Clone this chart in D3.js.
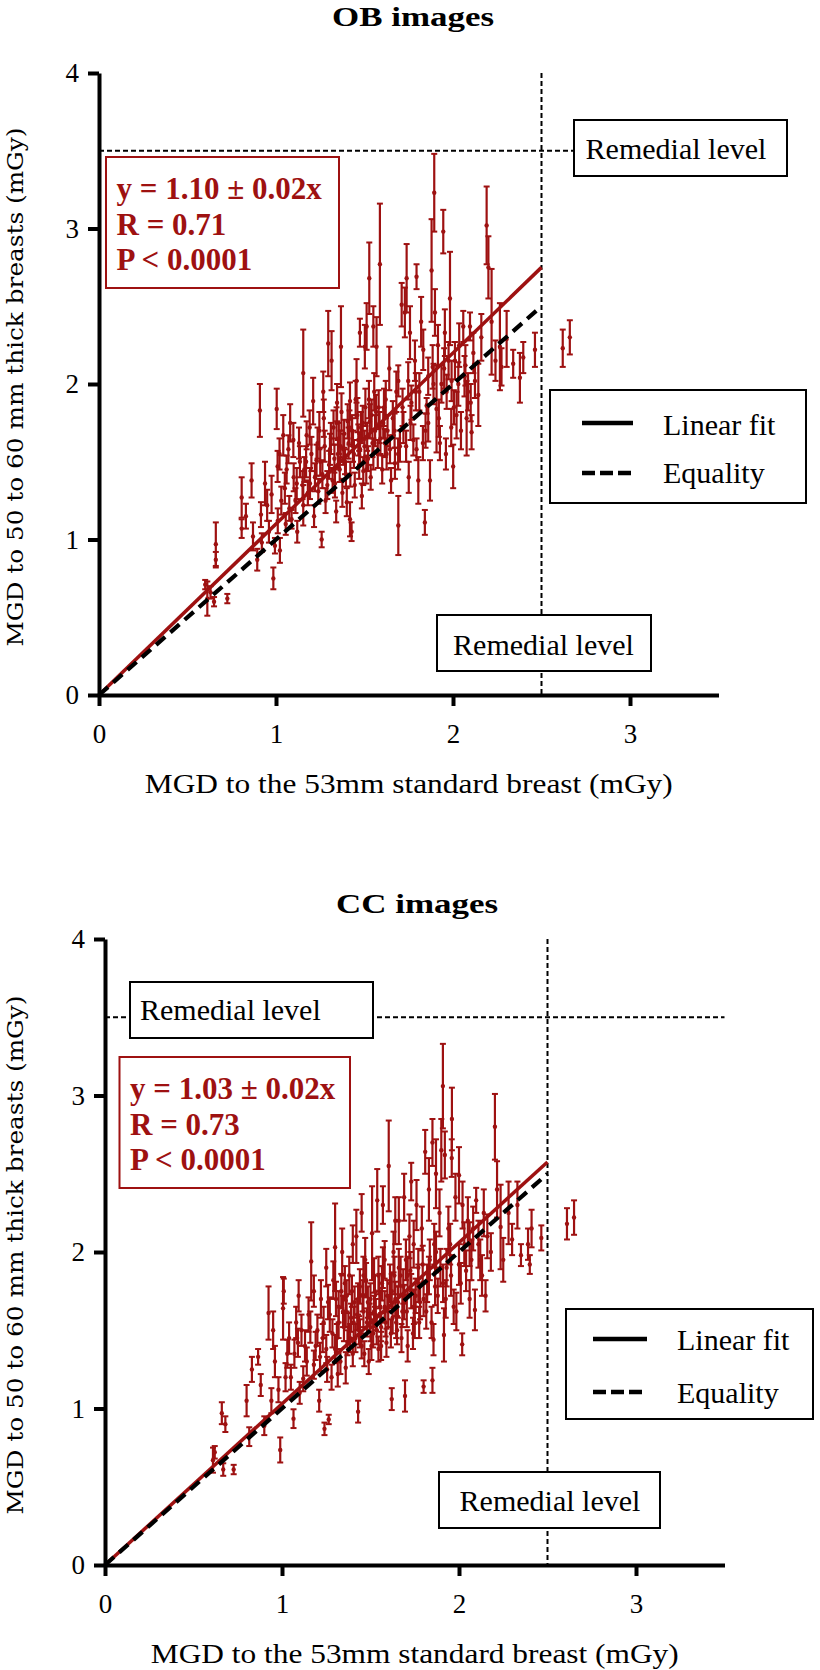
<!DOCTYPE html>
<html><head><meta charset="utf-8">
<script src="https://cdn.jsdelivr.net/npm/d3@7/dist/d3.min.js"></script>
<style>body{margin:0;background:#fff} svg{display:block}</style>
</head><body>
<svg id="c" width="820" height="1670"></svg>
<script>
// ---------- data ----------
const xTicks = [0, 1, 2, 3];
const yTicks = [0, 1, 2, 3, 4];
const remedialX = 2.5, remedialY = 3.5;
const obSlope = 1.10, ccSlope = 1.03;
const obEquation = ["y = 1.10 \u00b1 0.02x", "R = 0.71", "P < 0.0001"];
const ccEquation = ["y = 1.03 \u00b1 0.02x", "R = 0.73", "P < 0.0001"];
const legendLabels = ["Linear fit", "Equality"];
const remedialLabel = "Remedial level";
const xTitle = "MGD to the 53mm standard breast (mGy)";
const yTitle = "MGD to 50 to 60 mm thick breasts (mGy)";

// [x, y, error]
const obPoints = [
[0.60,0.71,0.03],[0.612,0.62,0.11],[0.65,0.60,0.03],[0.66,0.97,0.14],[0.66,0.87,0.05],[0.725,0.62,0.03],[0.63,0.66,0.04],
[0.806,1.27,0.13],[0.806,1.07,0.06],[0.83,1.15,0.08],[0.862,1.38,0.11],[0.87,1.02,0.09],[0.894,0.87,0.07],[0.909,1.83,0.17],
[0.915,1.16,0.08],[0.92,0.98,0.06],[0.938,1.36,0.14],[0.95,1.22,0.10],[0.96,1.05,0.07],[0.975,1.29,0.12],[0.985,0.75,0.07],
[0.994,0.96,0.05],[1.004,1.84,0.13],[1.009,1.47,0.10],[1.01,1.12,0.08],[1.022,0.93,0.08],[1.03,1.25,0.09],[1.041,1.67,0.13],
[1.05,1.33,0.10],[1.055,1.10,0.07],[1.07,1.58,0.09],[1.075,1.20,0.08],[1.088,1.13,0.06],[1.098,1.64,0.11],[1.10,1.40,0.09],
[1.117,1.36,0.10],[1.12,1.05,0.07],[1.135,1.50,0.10],[1.154,2.07,0.28],[1.154,1.22,0.13],[1.16,1.45,0.08],[1.173,1.67,0.09],
[1.18,1.30,0.08],[1.192,1.36,0.10],[1.20,1.55,0.11],[1.21,1.89,0.15],[1.215,1.15,0.07],[1.229,1.51,0.10],[1.239,1.31,0.08],
[1.245,1.70,0.12],[1.258,1.00,0.05],[1.262,1.42,0.09],[1.267,1.95,0.13],[1.275,1.60,0.10],[1.28,1.25,0.08],[1.295,2.26,0.21],
[1.30,1.48,0.09],[1.305,1.58,0.10],[1.314,2.15,0.19],[1.32,1.38,0.08],[1.325,1.72,0.11],[1.333,1.36,0.09],[1.34,1.18,0.07],
[1.342,1.75,0.10],[1.35,1.55,0.09],[1.355,1.65,0.10],[1.36,1.45,0.08],[1.367,2.24,0.26],[1.37,1.82,0.12],[1.375,1.30,0.09],
[1.38,1.58,0.10],[1.385,1.68,0.09],[1.39,1.50,0.08],[1.40,1.24,0.09],[1.405,1.76,0.11],[1.41,1.62,0.10],[1.418,1.13,0.11],
[1.418,1.89,0.12],[1.42,1.42,0.08],[1.427,1.05,0.06],[1.43,1.70,0.10],[1.44,1.55,0.09],[1.445,1.35,0.08],[1.455,2.02,0.14],
[1.46,1.80,0.11],[1.465,1.64,0.10],[1.47,1.48,0.09],[1.474,2.33,0.09],[1.48,1.72,0.10],[1.485,1.28,0.08],[1.493,1.44,0.09],
[1.50,1.60,0.10],[1.502,2.24,0.14],[1.505,1.85,0.12],[1.512,2.37,0.15],[1.515,1.66,0.09],[1.52,1.52,0.08],[1.527,2.68,0.23],
[1.53,1.76,0.11],[1.535,1.40,0.08],[1.54,1.80,0.10],[1.545,1.62,0.09],[1.55,2.37,0.13],[1.555,1.95,0.12],[1.56,1.70,0.10],
[1.568,2.24,0.19],[1.575,1.55,0.09],[1.58,1.85,0.11],[1.587,2.77,0.39],[1.59,1.65,0.10],[1.60,1.45,0.09],[1.606,1.75,0.10],
[1.615,1.62,0.09],[1.62,1.90,0.12],[1.63,1.70,0.10],[1.644,1.58,0.09],[1.65,1.38,0.08],[1.66,1.78,0.11],[1.672,1.49,0.10],
[1.68,1.95,0.13],[1.691,2.02,0.10],[1.691,1.09,0.19],[1.70,1.60,0.10],[1.71,2.51,0.14],[1.72,1.72,0.10],[1.728,2.46,0.16],
[1.738,2.68,0.22],[1.747,2.02,0.12],[1.75,1.40,0.10],[1.757,2.33,0.17],[1.765,1.88,0.11],[1.776,1.64,0.10],[1.785,2.15,0.13],
[1.794,2.69,0.08],[1.794,1.58,0.07],[1.804,1.38,0.15],[1.81,1.95,0.12],[1.82,2.40,0.16],[1.832,2.22,0.13],[1.841,1.11,0.08],
[1.845,1.70,0.11],[1.851,1.86,0.05],[1.86,2.05,0.12],[1.87,1.38,0.13],[1.879,2.73,0.33],[1.885,2.11,0.14],[1.894,3.23,0.25],
[1.898,2.46,0.15],[1.907,1.84,0.28],[1.915,2.25,0.13],[1.926,1.62,0.11],[1.935,2.00,0.12],[1.945,2.98,0.14],[1.954,2.33,0.15],
[1.96,1.55,0.10],[1.964,1.95,0.11],[1.975,2.15,0.12],[1.983,2.55,0.30],[1.992,2.02,0.13],[2.001,1.47,0.14],[2.005,1.85,0.11],
[2.011,2.15,0.12],[2.02,1.80,0.15],[2.035,2.25,0.14],[2.045,1.70,0.12],[2.058,2.37,0.10],[2.065,2.05,0.13],[2.077,1.78,0.24],
[2.085,1.95,0.12],[2.096,2.37,0.09],[2.105,1.69,0.11],[2.115,2.20,0.13],[2.124,2.02,0.11],[2.143,1.93,0.20],[2.16,2.30,0.15],
[2.19,3.02,0.25],[2.20,2.75,0.20],[2.218,2.40,0.34],[2.24,2.15,0.13],[2.265,2.24,0.28],[2.274,2.11,0.12],[2.303,2.29,0.18],
[2.34,2.13,0.09],[2.378,2.04,0.16],[2.397,2.17,0.10],[2.463,2.22,0.11],[2.62,2.23,0.12],[2.66,2.30,0.11],
[1.02,1.55,0.10],[1.06,1.45,0.09],[1.08,1.75,0.12],[1.11,1.25,0.08],[1.13,1.62,0.10],[1.15,1.35,0.09],[1.17,1.50,0.10],
[1.19,1.72,0.11],[1.22,1.40,0.09],[1.235,1.62,0.10],[1.25,1.50,0.09],[1.27,1.78,0.12],[1.29,1.35,0.09],[1.31,1.65,0.10],
[1.33,1.52,0.09],[1.345,1.88,0.12],[1.365,1.60,0.10],[1.395,1.42,0.08],[1.415,1.72,0.11],[1.435,1.60,0.10],[1.45,1.90,0.12],
[1.475,1.58,0.10],[1.49,1.75,0.11],[1.51,1.45,0.09],[1.525,1.90,0.12],[1.55,1.55,0.10],[1.565,1.82,0.11],[1.585,1.72,0.10],
[1.61,1.85,0.12],[1.625,1.55,0.10],[1.64,2.10,0.14],[1.67,1.70,0.11],[1.69,1.55,0.10],[1.715,1.85,0.12],[1.735,1.60,0.10],
[1.76,1.75,0.11],[1.79,1.95,0.12],[1.83,1.62,0.11],[1.86,1.75,0.12],[1.89,2.00,0.13],[1.92,1.78,0.12],[1.95,2.10,0.13],
[1.99,1.72,0.12],[2.03,2.00,0.14],[2.07,2.12,0.13],[2.10,1.88,0.12]
];

const ccPoints = [
[0.61,0.67,0.08],[0.62,0.72,0.04],[0.66,0.97,0.07],[0.668,0.61,0.04],[0.68,0.90,0.05],[0.727,0.61,0.03],[0.80,1.05,0.10],
[0.815,0.82,0.06],[0.83,1.25,0.08],[0.865,1.33,0.05],[0.88,1.15,0.07],[0.90,0.89,0.06],[0.924,1.61,0.17],[0.94,1.05,0.08],
[0.95,1.50,0.12],[0.96,1.30,0.10],[0.98,1.12,0.08],[0.99,0.735,0.08],[1.006,1.64,0.20],[1.01,1.75,0.08],[1.02,1.20,0.09],
[1.04,1.45,0.10],[1.05,1.20,0.08],[1.065,0.935,0.06],[1.07,1.35,0.09],[1.08,1.55,0.10],[1.094,1.72,0.10],[1.10,1.10,0.07],
[1.11,1.50,0.10],[1.12,1.19,0.08],[1.13,1.40,0.10],[1.15,1.60,0.11],[1.165,1.94,0.25],[1.18,1.28,0.09],[1.18,1.75,0.10],
[1.20,1.50,0.10],[1.21,1.05,0.07],[1.215,1.33,0.09],[1.22,1.70,0.12],[1.235,1.55,0.10],[1.24,0.87,0.04],[1.25,1.38,0.09],
[1.25,1.90,0.12],[1.255,1.25,0.08],[1.264,0.93,0.03],[1.27,1.60,0.11],[1.28,1.20,0.08],[1.285,1.48,0.09],[1.29,1.82,0.12],
[1.30,2.03,0.28],[1.305,1.70,0.11],[1.31,1.45,0.09],[1.315,1.22,0.08],[1.32,1.65,0.10],[1.33,1.30,0.08],[1.34,2.00,0.15],
[1.345,1.62,0.10],[1.35,1.52,0.09],[1.355,1.80,0.11],[1.36,1.26,0.10],[1.365,1.72,0.10],[1.37,1.42,0.08],[1.375,1.52,0.09],
[1.38,1.85,0.12],[1.39,1.58,0.09],[1.395,1.75,0.10],[1.40,1.35,0.08],[1.40,2.05,0.12],[1.41,1.68,0.10],[1.415,1.45,0.09],
[1.42,2.10,0.17],[1.425,1.60,0.10],[1.43,0.98,0.07],[1.435,1.50,0.09],[1.44,1.78,0.11],[1.45,1.40,0.08],[1.45,2.25,0.12],
[1.455,1.72,0.10],[1.46,1.62,0.10],[1.465,1.35,0.08],[1.47,1.95,0.14],[1.475,1.82,0.11],[1.48,1.55,0.09],[1.49,1.30,0.08],
[1.495,1.58,0.09],[1.50,1.70,0.10],[1.505,1.40,0.09],[1.509,2.12,0.30],[1.515,1.48,0.09],[1.52,1.85,0.11],[1.525,1.75,0.10],
[1.53,1.60,0.10],[1.535,1.50,0.09],[1.538,2.33,0.20],[1.545,1.38,0.08],[1.55,1.75,0.11],[1.555,1.65,0.10],[1.56,1.52,0.09],
[1.565,1.80,0.11],[1.57,1.90,0.13],[1.57,2.30,0.12],[1.58,1.65,0.10],[1.585,1.55,0.09],[1.59,1.42,0.09],[1.595,1.72,0.10],
[1.603,2.55,0.29],[1.61,1.80,0.12],[1.615,1.48,0.09],[1.62,1.06,0.07],[1.625,1.58,0.10],[1.63,2.00,0.13],[1.635,1.85,0.12],
[1.64,1.70,0.11],[1.64,2.20,0.15],[1.65,1.50,0.09],[1.655,1.68,0.10],[1.66,2.20,0.15],[1.67,1.85,0.12],[1.675,1.45,0.09],
[1.68,1.62,0.10],[1.685,1.78,0.11],[1.69,2.35,0.15],[1.695,1.08,0.10],[1.70,1.95,0.13],[1.705,1.62,0.10],[1.71,1.40,0.10],
[1.72,2.10,0.14],[1.725,1.88,0.12],[1.73,1.75,0.11],[1.73,2.45,0.12],[1.74,1.48,0.10],[1.744,2.05,0.15],[1.75,1.55,0.10],
[1.755,1.72,0.11],[1.76,2.30,0.16],[1.77,1.90,0.12],[1.775,1.55,0.10],[1.78,1.68,0.11],[1.79,2.15,0.14],[1.795,1.92,0.12],
[1.80,1.14,0.04],[1.809,2.64,0.14],[1.815,1.62,0.11],[1.82,1.80,0.12],[1.83,2.40,0.20],[1.835,1.95,0.13],[1.845,1.55,0.10],
[1.85,1.18,0.08],[1.85,2.70,0.15],[1.856,1.44,0.10],[1.86,2.05,0.13],[1.865,1.78,0.12],[1.87,2.50,0.22],[1.88,1.72,0.11],
[1.89,2.25,0.15],[1.895,1.90,0.12],[1.90,2.65,0.20],[1.909,3.06,0.27],[1.915,1.47,0.17],[1.92,2.62,0.15],[1.925,1.70,0.12],
[1.93,1.90,0.12],[1.94,2.15,0.14],[1.955,1.85,0.13],[1.959,2.60,0.12],[1.96,2.85,0.20],[1.97,1.65,0.11],[1.98,2.35,0.15],
[1.985,1.62,0.12],[2.0,2.49,0.18],[2.01,1.80,0.13],[2.018,1.41,0.07],[2.02,2.30,0.15],[2.03,2.05,0.14],[2.04,1.88,0.13],
[2.05,2.20,0.15],[2.06,1.70,0.12],[2.07,1.95,0.13],[2.08,2.15,0.14],[2.09,1.63,0.13],[2.097,2.33,0.08],[2.11,2.05,0.15],
[2.12,1.95,0.13],[2.13,1.85,0.13],[2.14,2.25,0.15],[2.15,1.72,0.10],[2.16,2.10,0.14],[2.18,2.00,0.12],[2.203,2.80,0.21],
[2.215,2.40,0.18],[2.235,2.16,0.27],[2.25,1.95,0.14],[2.28,2.25,0.20],[2.30,2.08,0.10],[2.33,2.30,0.15],[2.35,1.98,0.07],
[2.39,2.05,0.10],[2.40,1.92,0.06],[2.41,2.15,0.12],[2.465,2.09,0.08],[2.61,2.18,0.10],[2.65,2.22,0.11],
[1.03,1.35,0.09],[1.09,1.42,0.09],[1.14,1.30,0.09],[1.16,1.52,0.10],[1.19,1.40,0.09],[1.23,1.45,0.09],[1.26,1.68,0.11],
[1.30,1.38,0.09],[1.32,1.55,0.10],[1.335,1.75,0.11],[1.36,1.62,0.10],[1.385,1.45,0.09],[1.405,1.55,0.10],[1.43,1.70,0.10],
[1.44,1.48,0.09],[1.46,1.85,0.12],[1.485,1.68,0.10],[1.50,1.52,0.09],[1.52,1.62,0.10],[1.545,1.85,0.12],[1.56,1.40,0.09],
[1.58,1.95,0.12],[1.60,1.62,0.10],[1.62,1.75,0.11],[1.645,1.55,0.10],[1.66,1.90,0.12],[1.69,1.68,0.11],[1.71,1.85,0.12],
[1.745,1.65,0.11],[1.77,1.80,0.12],[1.80,1.70,0.11],[1.83,1.85,0.12],[1.87,2.00,0.13],[1.91,1.80,0.12],[1.95,2.05,0.13],
[2.00,1.92,0.13],[2.06,2.05,0.14]
];

// ---------- drawing ----------
const RED = "#9e1111";
const SERIF = "'Liberation Serif','Times New Roman',serif";
const svg = d3.select("#c");

const panels = [
  { title: "OB images", titleX: 413, titleY: 26, left: 99, bottom: 695, xu: 177, yu: 155.5,
    points: obPoints, slope: obSlope, eqText: obEquation, hLineEnd: 574,
    eqBox: [106, 157, 233, 131],
    legend: { box: [550, 390, 256, 113], lx: [582, 633], tx: 663, rows: [423, 473], base: [435, 483] },
    remBoxes: [ { r: [574, 120, 213, 56], tx: 676, ty: 159, anchor: "middle" },
                { r: [437, 615, 214, 56], tx: 543.5, ty: 655, anchor: "middle" } ] },
  { title: "CC images", titleX: 417, titleY: 913, left: 105, bottom: 1565, xu: 177, yu: 156.5,
    points: ccPoints, slope: ccSlope, eqText: ccEquation, hLineEnd: null,
    eqBox: [119.5, 1057, 230.5, 131],
    legend: { box: [566, 1309, 247, 110], lx: [593, 647], tx: 677, rows: [1339, 1392], base: [1350, 1403] },
    remBoxes: [ { r: [130, 982, 243, 56], tx: 140, ty: 1020, anchor: "start" },
                { r: [439, 1472, 221, 56], tx: 550, ty: 1511, anchor: "middle" } ] }
];

panels.forEach(p => {
  const g = svg.append("g");
  const x = d3.scaleLinear().domain([0, 3.5]).range([p.left, p.left + 3.5 * p.xu]);
  const y = d3.scaleLinear().domain([0, 4]).range([p.bottom, p.bottom - 4 * p.yu]);

  // title
  g.append("text").attr("x", p.titleX).attr("y", p.titleY).attr("text-anchor", "middle")
    .attr("font-family", SERIF).attr("font-weight", "bold").attr("font-size", 27)
    .attr("textLength", 162).attr("lengthAdjust", "spacingAndGlyphs").text(p.title);

  // remedial dashed lines
  g.append("line").attr("x1", x(remedialX)).attr("x2", x(remedialX)).attr("y1", y(4)).attr("y2", y(0))
    .attr("stroke", "#000").attr("stroke-width", 2).attr("stroke-dasharray", "5,3");
  g.append("line").attr("x1", x(0)).attr("x2", p.hLineEnd != null ? p.hLineEnd : x(3.5))
    .attr("y1", y(remedialY)).attr("y2", y(remedialY))
    .attr("stroke", "#000").attr("stroke-width", 2).attr("stroke-dasharray", "5,3");

  // error bars
  const eb = g.append("g").attr("stroke", RED).attr("fill", RED);
  const pts = eb.selectAll("g.pt").data(p.points).join("g").attr("class", "pt");
  pts.append("line").attr("x1", d => x(d[0])).attr("x2", d => x(d[0]))
    .attr("y1", d => y(d[1] - d[2])).attr("y2", d => y(d[1] + d[2])).attr("stroke-width", 2.2);
  pts.append("line").attr("x1", d => x(d[0]) - 3).attr("x2", d => x(d[0]) + 3)
    .attr("y1", d => y(d[1] + d[2])).attr("y2", d => y(d[1] + d[2])).attr("stroke-width", 2);
  pts.append("line").attr("x1", d => x(d[0]) - 3).attr("x2", d => x(d[0]) + 3)
    .attr("y1", d => y(d[1] - d[2])).attr("y2", d => y(d[1] - d[2])).attr("stroke-width", 2);
  pts.append("circle").attr("cx", d => x(d[0])).attr("cy", d => y(d[1])).attr("r", 2.2).attr("stroke", "none");

  // fit line & equality
  g.append("line").attr("x1", x(0)).attr("y1", y(0)).attr("x2", x(remedialX)).attr("y2", y(remedialX * p.slope))
    .attr("stroke", RED).attr("stroke-width", 3.5);
  g.append("line").attr("x1", x(0)).attr("y1", y(0)).attr("x2", x(remedialX)).attr("y2", y(remedialX))
    .attr("stroke", "#000").attr("stroke-width", 4.2).attr("stroke-dasharray", "12,7");

  // axes
  const xa = g.append("g").attr("transform", `translate(0,${p.bottom})`)
    .call(d3.axisBottom(x).tickValues(xTicks).tickSize(11).tickSizeOuter(0).tickFormat(d3.format("d")));
  xa.attr("font-family", SERIF).attr("font-size", 27);
  xa.select(".domain").attr("stroke-width", 4);
  xa.selectAll(".tick line").attr("stroke-width", 4);
  xa.selectAll(".tick text").attr("y", 48).attr("dy", null);

  const ya = g.append("g").attr("transform", `translate(${p.left},0)`)
    .call(d3.axisLeft(y).tickValues(yTicks).tickSize(11).tickPadding(9).tickSizeOuter(0).tickFormat(d3.format("d")));
  ya.attr("font-family", SERIF).attr("font-size", 27);
  ya.select(".domain").attr("stroke-width", 4);
  ya.selectAll(".tick line").attr("stroke-width", 4);

  // axis titles
  g.append("text").attr("x", (x(0) + x(3.5)) / 2).attr("y", p.bottom + 98).attr("text-anchor", "middle")
    .attr("font-family", SERIF).attr("font-size", 28)
    .attr("textLength", 528).attr("lengthAdjust", "spacingAndGlyphs").text(xTitle);
  g.append("text").attr("transform", `translate(23,${(y(0) + y(4)) / 2 + 3}) rotate(-90)`)
    .attr("text-anchor", "middle").attr("font-family", "'DejaVu Serif',serif").attr("font-size", 23)
    .attr("textLength", 519).attr("lengthAdjust", "spacingAndGlyphs").text(yTitle);

  // equation box
  const [ex, ey, ew, eh] = p.eqBox;
  g.append("rect").attr("x", ex).attr("y", ey).attr("width", ew).attr("height", eh)
    .attr("fill", "#fff").attr("stroke", RED).attr("stroke-width", 2);
  const eqOff = [42, 78, 113];
  p.eqText.forEach((t, i) => {
    g.append("text").attr("x", ex + 10.5).attr("y", ey + eqOff[i]).attr("font-family", SERIF)
      .attr("font-weight", "bold").attr("font-size", 31).attr("fill", RED).text(t);
  });

  // remedial boxes
  p.remBoxes.forEach(b => {
    g.append("rect").attr("x", b.r[0]).attr("y", b.r[1]).attr("width", b.r[2]).attr("height", b.r[3])
      .attr("fill", "#fff").attr("stroke", "#000").attr("stroke-width", 2);
    g.append("text").attr("x", b.tx).attr("y", b.ty).attr("text-anchor", b.anchor)
      .attr("font-family", SERIF).attr("font-size", 30).text(remedialLabel);
  });

  // legend
  const L = p.legend;
  g.append("rect").attr("x", L.box[0]).attr("y", L.box[1]).attr("width", L.box[2]).attr("height", L.box[3])
    .attr("fill", "#fff").attr("stroke", "#000").attr("stroke-width", 2);
  legendLabels.forEach((lab, i) => {
    g.append("line").attr("x1", L.lx[0]).attr("x2", L.lx[1]).attr("y1", L.rows[i]).attr("y2", L.rows[i])
      .attr("stroke", "#000").attr("stroke-width", 4.5).attr("stroke-dasharray", i === 1 ? "13,5" : null);
    g.append("text").attr("x", L.tx).attr("y", L.base[i]).attr("font-family", SERIF).attr("font-size", 30).text(lab);
  });
});
</script>
</body></html>
